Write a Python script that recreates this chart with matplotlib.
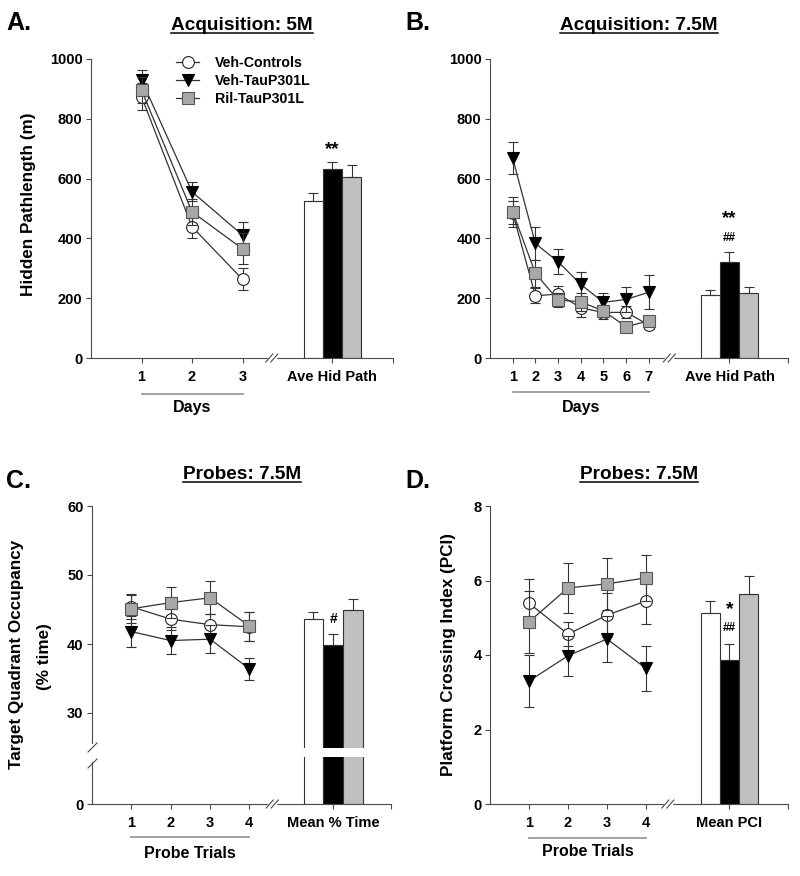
import matplotlib
matplotlib.use("Agg")

import matplotlib.pyplot as plt
from matplotlib.lines import Line2D
from matplotlib import transforms

plt.rcParams['font.family'] = ['Liberation Sans', 'DejaVu Sans']
plt.rcParams['font.weight'] = 'bold'

W, H = 800, 876

group_labels = ["Veh-Controls", "Veh-TauP301L", "Ril-TauP301L"]

# A. acquisition at 5 months (hidden pathlength, m)
days_5m = [1, 2, 3]
ctrl_5m = [874, 439, 263]
ctrl_5m_err = [46, 37, 37]
tau_5m = [930, 556, 411]
tau_5m_err = [33, 31, 45]
ril_5m = [896, 489, 365]
ril_5m_err = [44, 44, 52]
bar_5m = [525, 632, 606]
bar_5m_err = [28, 22, 39]

# B. acquisition at 7.5 months
days_75m = [1, 2, 3, 4, 5, 6, 7]
ctrl_75m = [486, 208, 214, 168, 152, 153, 110]
ctrl_75m_err = [38, 25, 28, 30, 20, 20, 12]
tau_75m = [668, 383, 322, 246, 186, 196, 220]
tau_75m_err = [53, 54, 42, 40, 30, 42, 57]
ril_75m = [489, 283, 194, 188, 157, 105, 124]
ril_75m_err = [50, 45, 22, 30, 20, 10, 15]
bar_75m = [211, 320, 218]
bar_75m_err = [16, 35, 18]

# C. probe trials, target quadrant occupancy (% time)
trials = [1, 2, 3, 4]
ctrl_occ = [45.4, 43.6, 42.8, 42.5]
ctrl_occ_err = [1.8, 1.6, 1.5, 2.1]
tau_occ = [41.8, 40.5, 40.7, 36.4]
tau_occ_err = [2.3, 1.9, 2.0, 1.6]
ril_occ = [45.1, 46.0, 46.7, 42.6]
ril_occ_err = [2.0, 2.2, 2.4, 2.1]
bar_occ = [43.6, 39.9, 45.0]
bar_occ_err = [1.1, 1.6, 1.5]

# D. probe trials, platform crossing index
ctrl_pci = [5.39, 4.56, 5.07, 5.45]
ctrl_pci_err = [0.65, 0.33, 0.60, 0.63]
tau_pci = [3.30, 3.98, 4.43, 3.64]
tau_pci_err = [0.70, 0.54, 0.61, 0.61]
ril_pci = [4.89, 5.80, 5.91, 6.07]
ril_pci_err = [0.83, 0.66, 0.69, 0.61]
bar_pci = [5.12, 3.87, 5.65]
bar_pci_err = [0.32, 0.42, 0.47]

AX = '#4a4a4a'
LN = '#333333'
series_style = [
    dict(marker='o', mfc='white', mec='#222222'),
    dict(marker='v', mfc='black', mec='black'),
    dict(marker='s', mfc='#a8a8a8', mec='#555555'),
]
bar_colors = ['white', 'black', '#c0c0c0']

fig = plt.figure(figsize=(W / 100, H / 100), dpi=100)
to_fig = fig.transFigure.inverted()


def add_ax(left, top, right, bottom):
    return fig.add_axes([left / W, 1 - bottom / H, (right - left) / W, (bottom - top) / H])


def style_ax(ax):
    ax.spines[['top', 'right']].set_visible(False)
    for s in ['left', 'bottom']:
        ax.spines[s].set_color(AX)
        ax.spines[s].set_linewidth(0.8)
    ax.tick_params(direction='out', length=3.6, width=0.8, color=AX, labelsize=10.5)
    ax.tick_params(axis='x', pad=5)
    ax.tick_params(axis='y', pad=2.5)


def draw_series(ax, x, means, errs):
    handles = []
    for i, (m, e, st) in enumerate(zip(means, errs, series_style)):
        c = ax.errorbar(x, m, yerr=e, color=LN, lw=0.9, ms=8.5, mew=0.8,
                        elinewidth=0.8, capsize=3.5, capthick=0.8,
                        zorder=3 + i, clip_on=False, **st)
        handles.append(c[0])
    return handles


def draw_bars(ax, xs, means, errs, width):
    ax.bar(xs, means, width, color=bar_colors, edgecolor='#333333', lw=0.8, zorder=2)
    ax.errorbar(xs, means, yerr=[[0] * len(errs), errs], fmt='none', ecolor='#333333',
                elinewidth=0.8, capsize=3.5, capthick=0.8, zorder=3)


def seg(p0, p1, **kw):
    p = to_fig.transform([p0, p1])
    fig.add_artist(Line2D(p[:, 0], p[:, 1], **kw))


def x_break(ax, xb):
    x0, y0 = ax.transData.transform((xb, ax.get_ylim()[0]))
    seg((x0 - 3, y0), (x0 + 3, y0), color='white', lw=2.5, zorder=10)
    seg((x0 - 6, y0 - 4), (x0 + 1, y0 + 4), color=AX, lw=0.8, zorder=11)
    seg((x0 - 1, y0 - 4), (x0 + 6, y0 + 4), color=AX, lw=0.8, zorder=11)


def x_caption(ax, x0, x1, text, y_line, y_text):
    tr = transforms.blended_transform_factory(ax.transData, fig.transFigure)
    ax.plot([x0, x1], [1 - y_line / H] * 2, transform=tr, color='#999999', lw=1.3, clip_on=False)
    ax.text((x0 + x1) / 2, 1 - y_text / H, text, transform=tr, ha='center', va='center',
            fontsize=11.5)


def set_xticks(ax, ticks, bar_center, bar_label, xmax):
    ax.set_xlim(0, xmax)
    ax.set_xticks(list(ticks) + [bar_center, xmax])
    ax.set_xticklabels([str(t) for t in ticks] + [bar_label, ''])


def title(cx, baseline, text):
    t = fig.text(cx / W, 1 - baseline / H, text, ha='center', va='baseline', fontsize=13.7)
    bb = t.get_window_extent(fig.canvas.get_renderer())
    yb = H - baseline - 2.5
    seg((bb.x0, yb), (bb.x1, yb), color='black', lw=1.1)


def letter(x, baseline, text):
    fig.text(x / W, 1 - baseline / H, text, ha='left', va='baseline', fontsize=18)


def mark(ax, x, y, text, size, drop):
    ax.annotate(text, (x, y), xytext=(0, -drop), textcoords='offset points',
                ha='center', va='baseline', fontsize=size)


# ---------- A ----------
axA = add_ax(91, 59, 393, 358)
style_ax(axA)
axA.set_ylim(0, 1000)
axA.set_yticks(range(0, 1001, 200))
barsA = [4.40, 4.78, 5.16]
set_xticks(axA, days_5m, barsA[1], 'Ave Hid Path', 5.98)
hA = draw_series(axA, days_5m, [ctrl_5m, tau_5m, ril_5m], [ctrl_5m_err, tau_5m_err, ril_5m_err])
draw_bars(axA, barsA, bar_5m, bar_5m_err, 0.376)
mark(axA, barsA[1], 716, '**', 13.5, 7.5)
x_break(axA, 3.58)
x_caption(axA, 1, 3, 'Days', 394, 407)
axA.legend(hA, group_labels, loc='upper left', bbox_to_anchor=(176 / W, 1 - 56 / H),
           bbox_transform=fig.transFigure, frameon=False, fontsize=10.2,
           handlelength=1.65, handletextpad=1.1, labelspacing=0.28,
           borderpad=0, borderaxespad=0)
fig.text(29 / W, 1 - 204 / H, 'Hidden Pathlength (m)', rotation=90, ha='center', va='center',
         fontsize=12.3)

# ---------- B ----------
axB = add_ax(490, 59, 788, 358)
style_ax(axB)
axB.set_ylim(0, 1000)
axB.set_yticks(range(0, 1001, 200))
barsB = [9.70, 10.55, 11.40]
set_xticks(axB, days_75m, barsB[1], 'Ave Hid Path', 13.13)
draw_series(axB, days_75m, [ctrl_75m, tau_75m, ril_75m], [ctrl_75m_err, tau_75m_err, ril_75m_err])
draw_bars(axB, barsB, bar_75m, bar_75m_err, 0.85)
mark(axB, barsB[1], 485, '**', 13.5, 7.5)
mark(axB, barsB[1], 406, '##', 8.5, 3)
x_break(axB, 7.9)
x_caption(axB, 1, 7, 'Days', 392, 407)

# ---------- C (broken y axis) ----------
axC = add_ax(92, 506, 391, 748)
axC0 = add_ax(92, 757, 391, 804)
for ax in (axC, axC0):
    style_ax(ax)
axC.set_ylim(60 - 242 / 6.9, 60)
axC.set_yticks([30, 40, 50, 60])
axC.spines['left'].set_bounds(60 - 237 / 6.9, 60)
axC.spines['bottom'].set_visible(False)
axC.set_xlim(0, 7.6)
axC.tick_params(axis='x', bottom=False, labelbottom=False)
axC0.set_ylim(0, 47 / 6.9)
axC0.set_yticks([0])
axC0.spines['left'].set_bounds(0, 42 / 6.9)
barsC = [5.63, 6.13, 6.63]
set_xticks(axC0, trials, barsC[1], 'Mean % Time', 7.6)
draw_series(axC, trials, [ctrl_occ, tau_occ, ril_occ], [ctrl_occ_err, tau_occ_err, ril_occ_err])
draw_bars(axC, barsC, bar_occ, bar_occ_err, 0.5)
draw_bars(axC0, barsC, bar_occ, bar_occ_err, 0.5)
mark(axC, barsC[1], 43.8, '#', 10, 3.5)
x_break(axC0, 4.58)
x_caption(axC0, 1, 4, 'Probe Trials', 837, 853)
# y-axis break marks
seg((88, H - 752), (97, H - 743), color=AX, lw=0.8)
seg((88, H - 768), (97, H - 759), color=AX, lw=0.8)
fig.text(17 / W, 1 - 654 / H, 'Target Quadrant Occupancy', rotation=90, ha='center',
         va='center', fontsize=12.3)
fig.text(45 / W, 1 - 657 / H, '(% time)', rotation=90, ha='center', va='center', fontsize=12.3)

# ---------- D ----------
axD = add_ax(490, 506, 788, 804)
style_ax(axD)
axD.set_ylim(0, 8)
axD.set_yticks([0, 2, 4, 6, 8])
barsD = [5.65, 6.14, 6.63]
set_xticks(axD, trials, barsD[1], 'Mean PCI', 7.64)
draw_series(axD, trials, [ctrl_pci, tau_pci, ril_pci], [ctrl_pci_err, tau_pci_err, ril_pci_err])
draw_bars(axD, barsD, bar_pci, bar_pci_err, 0.49)
mark(axD, barsD[1], 5.4, '*', 14, 7.8)
mark(axD, barsD[1], 4.76, '##', 8.5, 3)
x_break(axD, 4.56)
x_caption(axD, 1, 4, 'Probe Trials', 838, 852)
fig.text(448 / W, 1 - 655 / H, 'Platform Crossing Index (PCI)', rotation=90, ha='center',
         va='center', fontsize=12.3)

# ---------- titles & panel letters ----------
title(242, 30.5, 'Acquisition: 5M')
title(639, 30.5, 'Acquisition: 7.5M')
title(242, 479.5, 'Probes: 7.5M')
title(639, 479.5, 'Probes: 7.5M')
letter(6, 30, 'A.')
letter(405, 30, 'B.')
letter(6, 488, 'C.')
letter(405, 488, 'D.')

fig.savefig('out.png', dpi=100)
plt.close(fig)
